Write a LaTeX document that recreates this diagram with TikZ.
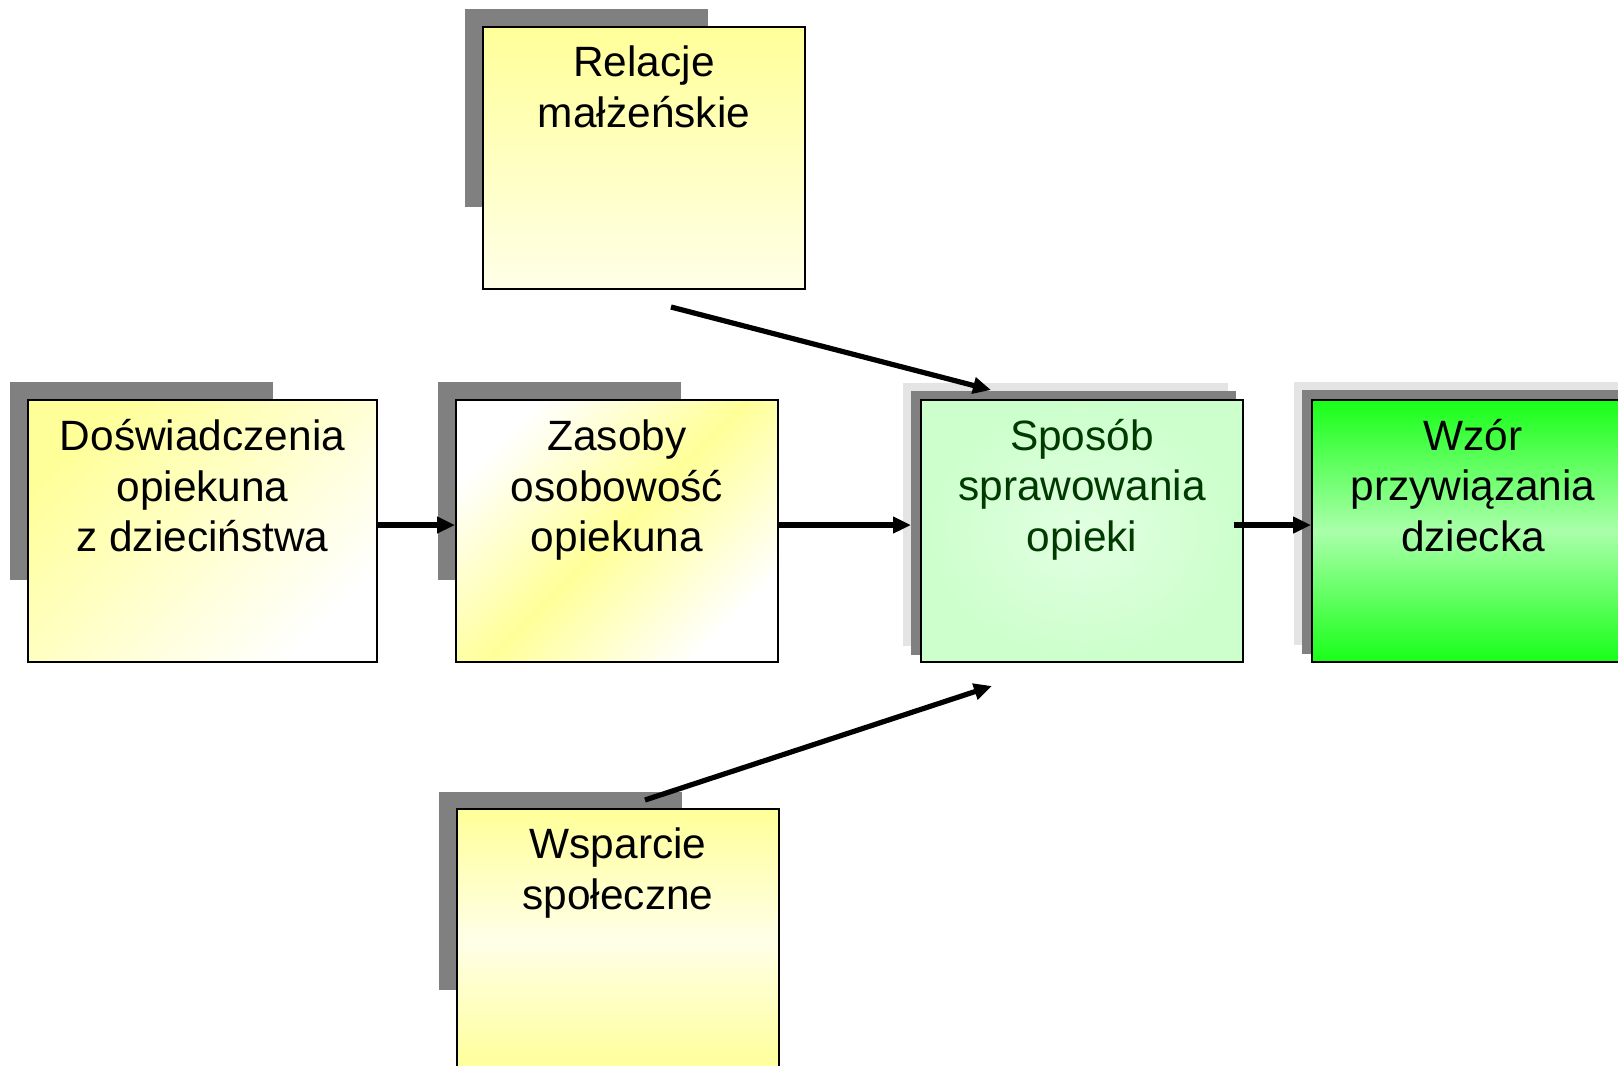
\documentclass[tikz,border=0pt]{standalone}
\usepackage{fontspec}
\setmainfont{Liberation Sans}
\usetikzlibrary{arrows.meta,backgrounds}

\definecolor{paleyel}{RGB}{255,255,153}
\definecolor{whiteyel}{RGB}{255,255,232}
\definecolor{palegrn}{RGB}{204,255,204}
\definecolor{litegrn}{RGB}{226,255,226}
\definecolor{brightgrn}{RGB}{24,255,24}
\definecolor{midgrn}{RGB}{170,255,170}
\definecolor{darktxt}{RGB}{0,58,0}
\definecolor{shadowdark}{RGB}{128,128,128}
\definecolor{shadowlite}{RGB}{228,228,228}

\tikzset{
  boxbase/.style={draw=black, line width=1pt, rectangle, anchor=north west,
    minimum width=161pt, minimum height=131pt, inner sep=0pt},
  lbl/.style={font=\fontsize{21.2}{25.3}\selectfont, align=center, inner sep=0pt, anchor=base},
  shdark/.style={fill=shadowdark},
  shlite/.style={fill=shadowlite},
  flow/.style={line width=2.6pt, -{Triangle[length=9pt,width=8pt]}},
}

\begin{document}
\begin{tikzpicture}[x=0.5pt,y=-0.5pt]
\useasboundingbox (0,0) rectangle (1618,1066);
\clip (0,0) rectangle (1618,1066);

% boxes
\node[boxbase, minimum width=174.5pt, top color=paleyel, bottom color=white, shading angle=45]
  (dos) at (27,399) {};
\node[boxbase, top color=white, bottom color=white, middle color=paleyel, shading angle=45]
  (zas) at (455,399) {};
\node[boxbase, top color=paleyel, bottom color=whiteyel]
  (rel) at (482,26) {};
\node[boxbase, top color=paleyel, bottom color=paleyel, middle color=whiteyel]
  (wsp) at (456,808) {};
\node[boxbase, shading=radial, inner color=litegrn, outer color=palegrn]
  (spo) at (920,399) {};
\node[boxbase, top color=brightgrn, bottom color=brightgrn, middle color=midgrn]
  (wzo) at (1311,399) {};

% shadows behind the boxes
\begin{scope}[on background layer]
  \fill[white] (0,0) rectangle (1618,1066);
  \fill[shdark] ([xshift=-8.5pt,yshift=8.5pt]dos.north west) rectangle ++(263,198);
  \fill[shdark] ([xshift=-8.5pt,yshift=8.5pt]zas.north west) rectangle ++(243,198);
  \fill[shdark] ([xshift=-8.5pt,yshift=8.5pt]rel.north west) rectangle ++(243,198);
  \fill[shdark] ([xshift=-8.5pt,yshift=8pt]wsp.north west) rectangle ++(243,198);
  \fill[shlite] ([xshift=-8.5pt,yshift=8pt]spo.north west) rectangle ++(325,263);
  \fill[shdark] ([xshift=-4.5pt,yshift=4pt]spo.north west) rectangle ++(325,264);
  \fill[shlite] ([xshift=-8.5pt,yshift=8.5pt]wzo.north west) rectangle ++(325,263);
  \fill[shdark] ([xshift=-4.5pt,yshift=4.5pt]wzo.north west) rectangle ++(325,264);
\end{scope}

% labels (base anchor sits on the last line)
\node[lbl] (dosT) at ([yshift=-76.4pt]dos.north) {Doświadczenia\\opiekuna\\z dzieciństwa};
\node[lbl] (zasT) at ([yshift=-76.4pt]zas.north) {Zasoby\\osobowość\\opiekuna};
\node[lbl] (relT) at ([yshift=-50.6pt]rel.north) {Relacje\\małżeńskie};
\node[lbl] (wspT) at ([yshift=-50.6pt]wsp.north) {Wsparcie\\społeczne};
\node[lbl, text=darktxt] (spoT) at ([yshift=-76.1pt]spo.north) {Sposób\\sprawowania\\opieki};
\node[lbl] (wzoT) at ([yshift=-76.1pt]wzo.north) {Wzór\\przywiązania\\dziecka};

% connector end points
\coordinate (relOut) at ([xshift=13.5pt,yshift=-8.5pt]rel.south);
\coordinate (spoIn)  at ([xshift=-45.5pt,yshift=4.5pt]spo.north);
\coordinate (wspOut) at ([xshift=13.5pt,yshift=4pt]wsp.north);
\coordinate (spoIn2) at ([xshift=-45pt,yshift=-11.5pt]spo.south);

% connectors
\draw[flow] ([yshift=3pt]dos.east) -- ([yshift=3pt]zas.west);
\draw[flow] ([yshift=3pt]zas.east) -- ([xshift=-4.5pt,yshift=3pt]spo.west);
\draw[flow] ([xshift=-5pt,yshift=3pt]spo.east) -- ([yshift=3pt]wzo.west);
\draw[flow] (relOut) -- (spoIn);
\draw[flow] (wspOut) -- (spoIn2);
\end{tikzpicture}
\end{document}
